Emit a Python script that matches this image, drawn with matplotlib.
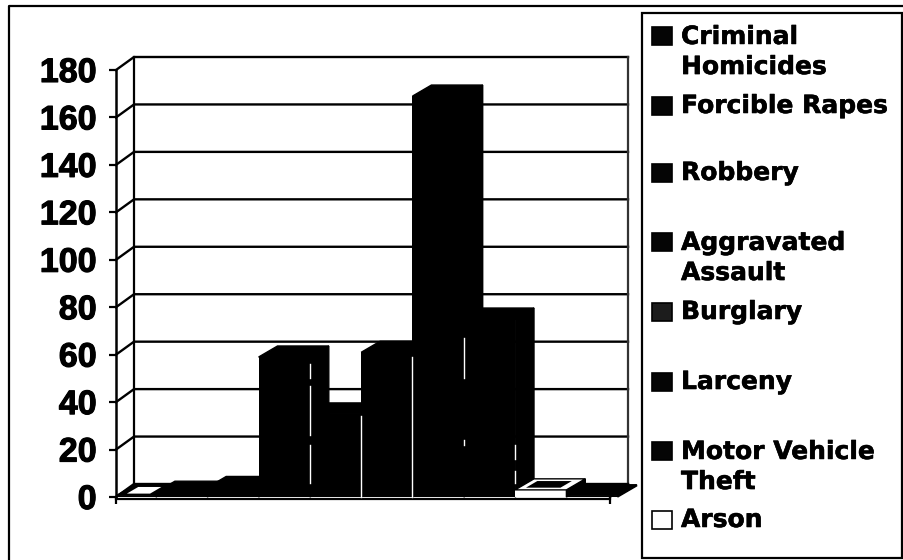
#!/usr/bin/env python
# -*- coding: utf-8 -*-

import matplotlib

matplotlib.use("Agg")
import matplotlib.patheffects as pe  # noqa: E402
import matplotlib.pyplot as plt  # noqa: E402
from matplotlib.patches import Polygon, Rectangle  # noqa: E402


# bars as they stand in the picture, left to right
BAR_VALUES = [0.5, 2, 4, 59, 35, 61, 169, 75, 3, 0.5]
BAR_COLORS = ["black"] * 8 + ["white", "black"]

Y_TICKS = [0, 20, 40, 60, 80, 100, 120, 140, 160, 180]

LEGEND_LABELS = [
    "Criminal\nHomicides",
    "Forcible Rapes",
    "Robbery",
    "Aggravated\nAssault",
    "Burglary",
    "Larceny",
    "Motor Vehicle\nTheft",
    "Arson",
]
LEGEND_COLORS = ["#050505", "#050505", "#050505", "#050505", "#1c1c1c", "#050505", "#050505", "white"]
LEGEND_Y = [52, 106, 173, 258, 312, 382, 467, 520]

W, H = 904, 560
FONT = "DejaVu Sans"
TICK_FONT = "Liberation Sans"


def px_axes(fig, x0, y0, x1, y1):
    # axes from pixel box, y counted from the top like in the picture
    return fig.add_axes([x0 / W, 1 - y1 / H, (x1 - x0) / W, (y1 - y0) / H])


def main():
    fig = plt.figure(figsize=(W / 100, H / 100), dpi=100, facecolor="white")

    # outer frame (only top and left show) and legend box
    bg = fig.add_axes([0, 0, 1, 1])
    bg.set_xlim(0, W)
    bg.set_ylim(H, 0)
    bg.axis("off")
    bg.plot([9, 9, W], [H, 6, 6], color="black", lw=1.6)
    bg.add_patch(Rectangle((642, 13), 260, 545, fc="white", ec="black", lw=1.6, zorder=3))

    # front plane of the plot
    ax = px_axes(fig, 116, 70, 610, 497)
    ax.patch.set_alpha(0)
    bar_w = 51.3 / 494 * 10
    ax.set_xlim(0, 10)
    ax.set_ylim(0, 180)
    depth_x = 18 / 494 * 10
    depth_y = 13 / 427 * 180
    bar_dx = depth_x * 1.05
    bar_dy = depth_y * 0.85

    # walls and floor
    for v in Y_TICKS:
        ax.plot([0, depth_x, 10 + depth_x], [v, v + depth_y, v + depth_y], color="black", lw=1.7,
                clip_on=False, zorder=1, solid_joinstyle="miter")
    ax.plot([0, 0], [0, 180], color="black", lw=1.8, clip_on=False, zorder=1)
    ax.plot([depth_x, depth_x], [depth_y, 180 + depth_y], color="black", lw=1.6, clip_on=False, zorder=1)
    ax.plot([10 + depth_x, 10 + depth_x], [depth_y, 180 + depth_y], color="#333333", lw=1.6, clip_on=False, zorder=1)
    ax.plot([10, 10 + depth_x], [0, depth_y], color="black", lw=1.6, clip_on=False, zorder=1)
    ax.plot([0, 10], [-0.8, -0.8], color="black", lw=1.6, clip_on=False, zorder=1)

    # bars: back ones first so the nearer sides overlap properly
    start = (156 - 116) / 494 * 10 - bar_w
    for i, (v, c) in enumerate(zip(BAR_VALUES, BAR_COLORS)):
        left = max(start + i * bar_w, 0)
        right = start + (i + 1) * bar_w
        z = 2 + i * 0.01
        ax.bar(left, v, width=right - left, align="edge", color=c, edgecolor="none", zorder=z, clip_on=False)
        top = [(left, v), (left + bar_dx, v + bar_dy), (right + bar_dx, v + bar_dy), (right, v)]
        side = [(right, 0), (right + bar_dx, bar_dy), (right + bar_dx, v + bar_dy), (right, v)]
        ax.add_patch(Polygon(side, closed=True, fc="black", ec="black", lw=1.0, zorder=z, clip_on=False))
        ax.add_patch(Polygon(top, closed=True, fc=c, ec="black", lw=1.0, zorder=z, clip_on=False))

    # hollow tops on the first bar and on the white one
    for i, fc in [(0, "white"), (8, "black")]:
        left = max(start + i * bar_w, 0)
        right = start + (i + 1) * bar_w
        v = BAR_VALUES[i]
        inner = [
            (left + 0.22, v + bar_dy * 0.2),
            (left + 0.22 + bar_dx * 0.6, v + bar_dy * 0.8),
            (right - 0.12 + bar_dx * 0.6, v + bar_dy * 0.8),
            (right - 0.12, v + bar_dy * 0.2),
        ]
        ax.add_patch(Polygon(inner, closed=True, fc=fc, ec="none", zorder=3, clip_on=False))

    # broken white slits left between the dark bars by the scan
    slits = [
        (3, 6, 22), (3, 26, 47), (3, 50, 56),
        (4, 0, 34),
        (5, 0, 59),
        (6, 50, 67), (6, 22, 24),
        (7, 6, 11), (7, 16, 22),
    ]
    for i, lo, hi in slits:
        x = start + (i + 1) * bar_w
        ax.plot([x, x], [lo, hi], color="white", lw=1.0, zorder=3, clip_on=False)

    for s in ax.spines.values():
        s.set_visible(False)
    ax.set_xticks([0, 10])
    ax.set_xticklabels(["", ""])
    ax.set_yticks(Y_TICKS)
    ax.set_yticklabels([str(v) for v in Y_TICKS], fontsize=24.5, fontweight="bold", family=TICK_FONT,
                        path_effects=[pe.withStroke(linewidth=0.8, foreground="black")])
    ax.tick_params(axis="y", length=5, width=1.6, pad=9, color="black")
    ax.tick_params(axis="x", length=5, width=1.6, color="black")

    # legend drawn by hand, the rows are unevenly spaced in the original
    for lab, col, y in zip(LEGEND_LABELS, LEGEND_COLORS, LEGEND_Y):
        first_line_y = y - 16 if "\n" in lab else y
        bg.add_patch(Rectangle((652, first_line_y - 9), 20, 18, fc=col, ec="black", lw=1.2, zorder=4))
        bg.text(681, y, lab, fontsize=18, fontweight="bold", family=FONT, va="center", ha="left",
                linespacing=1.32, color="black", zorder=4,
                path_effects=[pe.withStroke(linewidth=0.4, foreground="black")])

    fig.savefig("out.png", dpi=100)
    plt.close(fig)


if __name__ == "__main__":
    main()
